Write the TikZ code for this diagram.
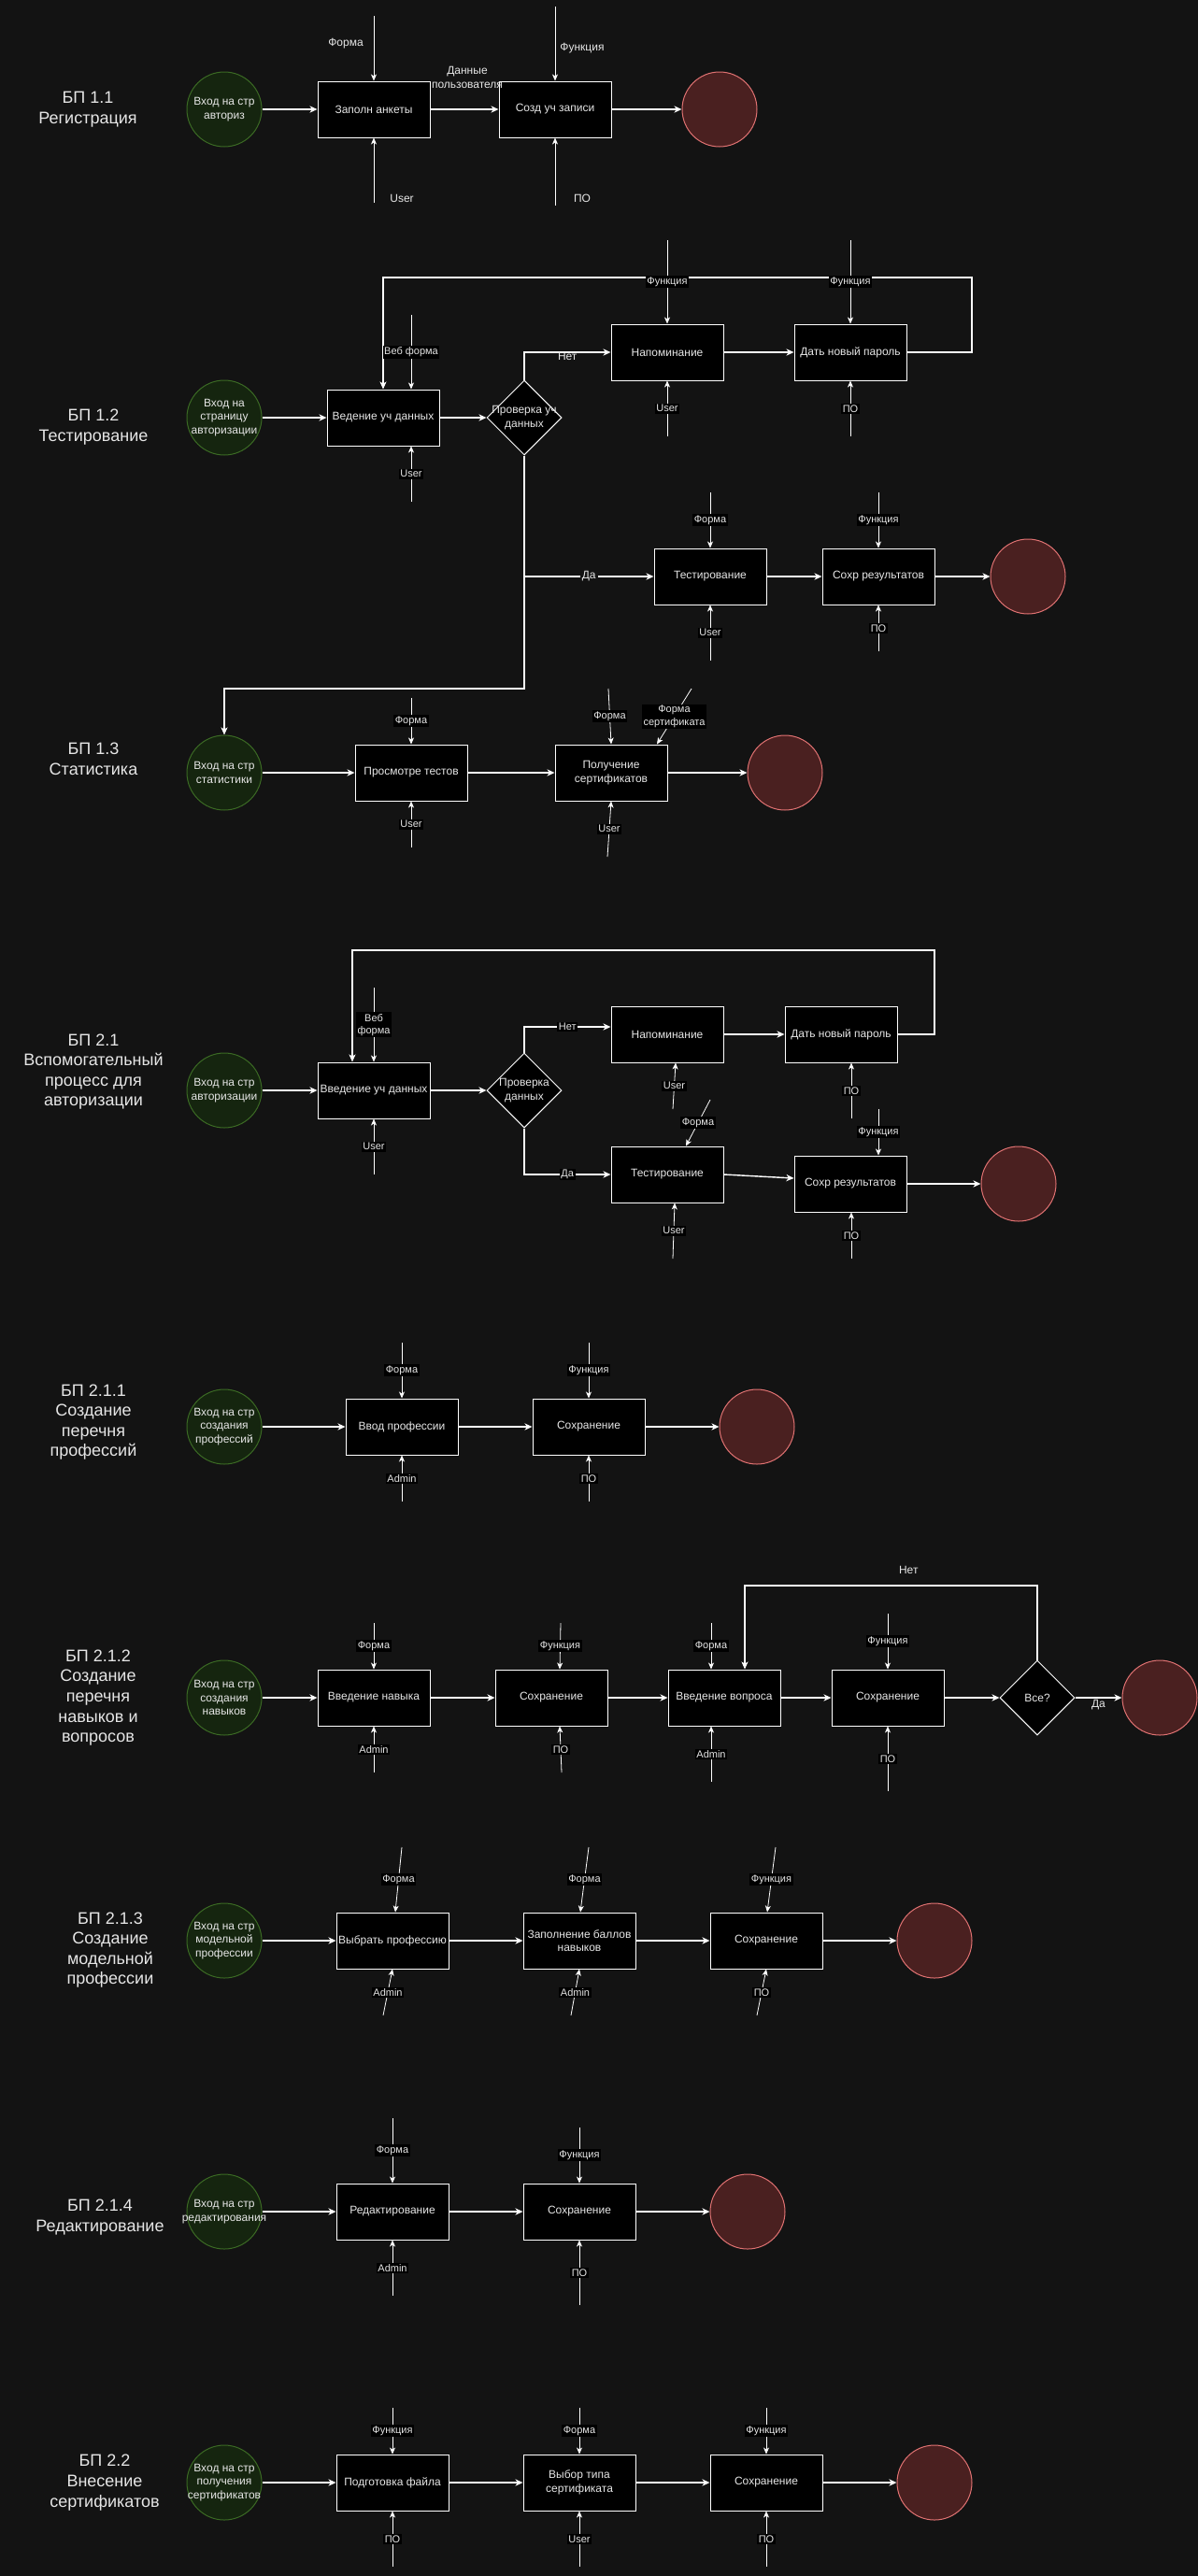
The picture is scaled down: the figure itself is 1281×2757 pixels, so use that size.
\documentclass[tikz,border=0pt]{standalone}
\usepackage{fontspec}
\setmainfont{Liberation Sans}
\usepackage{xcolor}
\usetikzlibrary{arrows.meta,shapes.geometric}

\definecolor{bgc}{HTML}{131313}
\definecolor{txt}{HTML}{E6E6E6}
\definecolor{startfill}{HTML}{15250F}
\definecolor{startline}{HTML}{3B6A24}
\definecolor{endfill}{HTML}{4A2020}
\definecolor{endline}{HTML}{E07272}

\begin{document}
\begin{tikzpicture}[x=0.5pt, y=-0.5pt,
    proc/.style={draw=white, fill=black, line width=0.5pt, minimum width=60pt, minimum height=30pt,
        inner sep=1pt, align=center, text=txt, font=\fontsize{6pt}{7.2pt}\selectfont},
    startnode/.style={circle, minimum size=40pt, inner sep=0pt, fill=startfill, draw=startline, line width=0.5pt},
    endnode/.style={circle, minimum size=40pt, inner sep=0pt, fill=endfill, draw=endline, line width=0.5pt},
    check/.style={diamond, minimum width=40pt, minimum height=40pt, inner sep=0pt, fill=black, draw=white, line width=0.5pt},
    intext/.style={align=center, text=txt, font=\fontsize{6pt}{7.2pt}\selectfont, inner sep=0pt},
    title/.style={align=center, text=txt, font=\fontsize{9pt}{10.8pt}\selectfont},
    plain/.style={align=center, text=txt, font=\fontsize{6pt}{7.2pt}\selectfont, inner sep=1pt},
    lbl/.style={fill=black, align=center, text=txt, font=\fontsize{5.5pt}{6.6pt}\selectfont, inner sep=0.8pt},
    flow/.style={draw=white, line width=0.7pt, -{Stealth[length=4pt,width=3.6pt,inset=1.2pt]}},
    back/.style={draw=white, line width=0.55pt, -{Stealth[length=4pt,width=3.5pt,inset=1pt]}},
    ctl/.style={draw=white, line width=0.4pt, -{Stealth[length=3.5pt,width=3pt,inset=1pt]}}]

    \useasboundingbox (0,0) rectangle (1281,2757);
    \fill[bgc] (-20,-20) rectangle (1301,2777);

    \node[title] (t11) at (94,117) {БП 1.1\\Регистрация};
    \node[startnode, label={[intext]center:Вход на стр\\авториз}] (s11) at (240,117) {};
    \node[proc] (a11) at (400,117) {Заполн анкеты};
    \node[proc] (b11) at (594,117) {Созд уч записи};
    \node[endnode] (e11) at (770,117) {};
    \draw[flow] (s11) -- (a11);
    \draw[flow] (a11) -- (b11);
    \draw[flow] (b11) -- (e11);
    \node[plain] (u11) at (500,83) {Данные\\пользователя};
    \coordinate (a11i) at (400,17);
    \coordinate (b11i) at (594,7);
    \coordinate (a11m) at (400,217);
    \coordinate (b11m) at (594,220);
    \draw[ctl] (a11i) -- (a11.north);
    \draw[ctl] (b11i) -- (b11.north);
    \draw[ctl] (a11m) -- (a11.south);
    \draw[ctl] (b11m) -- (b11.south);
    \node[plain] (f11) at (370,47) {Форма};
    \node[plain] (g11) at (623,52) {Функция};
    \node[plain] (h11) at (430,212) {User};
    \node[plain] (k11) at (623,212) {ПО};

    \node[title] (t12) at (100,457) {БП 1.2\\Тестирование};
    \node[startnode, label={[intext]center:Вход на\\страницу\\авторизации}] (s12) at (240,447) {};
    \node[proc] (v12) at (410,447) {Ведение уч данных};
    \node[check, label={[intext]center:Проверка уч\\данных}] (d12) at (561,447) {};
    \node[proc] (n12) at (714,377) {Напоминание};
    \node[proc] (p12) at (910,377) {Дать новый пароль};
    \node[proc] (q12) at (760,617) {Тестирование};
    \node[proc] (r12) at (940,617) {Сохр результатов};
    \node[endnode] (e12) at (1100,617) {};
    \coordinate (k12) at (1040,297);
    \coordinate (j12) at (561,737);
    \draw[flow] (s12) -- (v12);
    \draw[flow] (v12) -- (d12);
    \draw[flow] (d12.north) |- node[pos=0.75, below=-1pt, plain] {Нет} (n12.west);
    \draw[flow] (n12) -- (p12);
    \draw[back] (p12.east) -| (k12) -| (v12.north);
    \draw[flow] (d12.south) |- node[pos=0.75, plain, fill=bgc] {Да} (q12.west);
    \draw[flow] (q12) -- (r12);
    \draw[flow] (r12) -- (e12);
    \coordinate (v12i) at (440,337);
    \coordinate (v12m) at (440,537);
    \coordinate (n12i) at (714,257);
    \coordinate (n12m) at (714,467);
    \coordinate (p12i) at (910,257);
    \coordinate (p12m) at (910,467);
    \coordinate (q12i) at (760,527);
    \coordinate (q12m) at (760,707);
    \coordinate (r12i) at (940,527);
    \coordinate (r12m) at (940,697);
    \draw[ctl] (v12i) -- node[lbl] {Веб форма} (v12i |- v12.north);
    \draw[ctl] (v12m) -- node[lbl] {User} (v12m |- v12.south);
    \draw[ctl] (n12i) -- node[lbl] {Функция} (n12.north);
    \draw[ctl] (n12m) -- node[lbl] {User} (n12.south);
    \draw[ctl] (p12i) -- node[lbl] {Функция} (p12.north);
    \draw[ctl] (p12m) -- node[lbl] {ПО} (p12.south);
    \draw[ctl] (q12i) -- node[lbl] {Форма} (q12.north);
    \draw[ctl] (q12m) -- node[lbl] {User} (q12.south);
    \draw[ctl] (r12i) -- node[lbl] {Функция} (r12.north);
    \draw[ctl] (r12m) -- node[lbl] {ПО} (r12.south);

    \node[title] (t13) at (100,812) {БП 1.3\\Статистика};
    \node[startnode, label={[intext]center:Вход на стр\\статистики}] (s13) at (240,827) {};
    \node[proc] (v13) at (440,827) {Просмотре тестов};
    \node[proc] (g13) at (654,827) {Получение\\сертификатов};
    \node[endnode] (e13) at (840,827) {};
    \draw[back] (d12.south) -- (j12) -| (s13.north);
    \draw[flow] (s13) -- (v13);
    \draw[flow] (v13) -- (g13);
    \draw[flow] (g13) -- (e13);
    \coordinate (v13i) at (440,747);
    \coordinate (v13m) at (440,907);
    \coordinate (g13i) at (651,737);
    \coordinate (g13j) at (740,737);
    \coordinate (g13m) at (650,917);
    \draw[ctl] (v13i) -- node[lbl] {Форма} (v13.north);
    \draw[ctl] (v13m) -- node[lbl] {User} (v13.south);
    \draw[ctl] (g13i) -- node[lbl] {Форма} (g13.north);
    \draw[ctl] (g13j) -- node[lbl] {Форма\\сертификата} ([xshift=24.5pt]g13.north);
    \draw[ctl] (g13m) -- node[lbl] {User} (g13.south);

    \node[title] (t21) at (100,1147) {БП 2.1\\Вспомогательный\\процесс для\\авторизации};
    \node[startnode, label={[intext]center:Вход на стр\\авторизации}] (s21) at (240,1167) {};
    \node[proc] (v21) at (400,1167) {Введение уч данных};
    \node[check, label={[intext]center:Проверка\\данных}] (d21) at (561,1167) {};
    \node[proc] (n21) at (714,1107) {Напоминание};
    \node[proc] (p21) at (900,1107) {Дать новый пароль};
    \node[proc] (q21) at (714,1257) {Тестирование};
    \node[proc] (r21) at (910,1267) {Сохр результатов};
    \node[endnode] (e21) at (1090,1267) {};
    \coordinate (k21) at (1000,1017);
    \draw[flow] (s21) -- (v21);
    \draw[flow] (v21) -- (d21);
    \draw[flow] (d21.north) |- node[pos=0.75, lbl] {Нет} ([yshift=4pt]n21.west);
    \draw[flow] (n21) -- (p21);
    \draw[back] (p21.east) -| (k21) -| ([xshift=-11.5pt]v21.north);
    \draw[flow] (d21.south) |- node[pos=0.75, lbl] {Да} (q21.west);
    \draw[flow] (q21.east) -- ([yshift=3pt]r21.west);
    \draw[flow] (r21) -- (e21);
    \coordinate (v21i) at (400,1057);
    \coordinate (v21m) at (400,1257);
    \coordinate (n21m) at (720,1187);
    \coordinate (p21m) at (911,1197);
    \coordinate (q21i) at (760,1177);
    \coordinate (q21m) at (720,1347);
    \coordinate (r21i) at (940,1187);
    \coordinate (r21m) at (911,1347);
    \draw[ctl] (v21i) -- node[lbl] {Веб\\форма} (v21.north);
    \draw[ctl] (v21m) -- node[lbl] {User} (v21.south);
    \draw[ctl] (n21m) -- node[lbl] {User} ([xshift=4.5pt]n21.south);
    \draw[ctl] (p21m) -- node[lbl] {ПО} (p21m |- p21.south);
    \draw[ctl] (q21i) -- node[lbl] {Форма} ([xshift=10pt]q21.north);
    \draw[ctl] (q21m) -- node[lbl] {User} ([xshift=4pt]q21.south);
    \draw[ctl] (r21i) -- node[lbl] {Функция} (r21i |- r21.north);
    \draw[ctl] (r21m) -- node[lbl] {ПО} (r21m |- r21.south);

    \node[title] (t211) at (100,1522) {БП 2.1.1\\Создание\\перечня\\профессий};
    \node[startnode, label={[intext]center:Вход на стр\\создания\\профессий}] (s211) at (240,1527) {};
    \node[proc] (v211) at (430,1527) {Ввод профессии};
    \node[proc] (r211) at (630,1527) {Сохранение};
    \node[endnode] (e211) at (810,1527) {};
    \draw[flow] (s211) -- (v211);
    \draw[flow] (v211) -- (r211);
    \draw[flow] (r211) -- (e211);
    \coordinate (v211i) at (430,1437);
    \coordinate (v211m) at (430,1607);
    \coordinate (r211i) at (630,1437);
    \coordinate (r211m) at (630,1607);
    \draw[ctl] (v211i) -- node[lbl] {Форма} (v211.north);
    \draw[ctl] (v211m) -- node[lbl] {Admin} (v211.south);
    \draw[ctl] (r211i) -- node[lbl] {Функция} (r211.north);
    \draw[ctl] (r211m) -- node[lbl] {ПО} (r211.south);

    \node[title] (t212) at (105,1817) {БП 2.1.2\\Создание\\перечня\\навыков и\\вопросов};
    \node[startnode, label={[intext]center:Вход на стр\\создания\\навыков}] (s212) at (240,1817) {};
    \node[proc] (a212) at (400,1817) {Введение навыка};
    \node[proc] (b212) at (590,1817) {Сохранение};
    \node[proc] (q212) at (775,1817) {Введение вопроса};
    \node[proc] (c212) at (950,1817) {Сохранение};
    \node[check, label={[intext]center:Все?}] (d212) at (1110,1817) {};
    \node[endnode] (e212) at (1241,1817) {};
    \coordinate (k212) at (1110,1697);
    \draw[flow] (s212) -- (a212);
    \draw[flow] (a212) -- (b212);
    \draw[flow] (b212) -- (q212);
    \draw[flow] (q212) -- (c212);
    \draw[flow] (c212) -- (d212);
    \draw[flow] (d212) -- node[below=0pt, plain] {Да} (e212);
    \draw[back] (d212.north) -- (k212) -| node[pos=0.22, above=5pt, plain] {Нет} ([xshift=11pt]q212.north);
    \coordinate (a212i) at (400,1737);
    \coordinate (a212m) at (400,1897);
    \coordinate (b212i) at (600,1737);
    \coordinate (b212m) at (601,1897);
    \coordinate (q212i) at (761,1737);
    \coordinate (q212m) at (761,1907);
    \coordinate (c212i) at (950,1727);
    \coordinate (c212m) at (950,1917);
    \draw[ctl] (a212i) -- node[lbl] {Форма} (a212.north);
    \draw[ctl] (a212m) -- node[lbl] {Admin} (a212.south);
    \draw[ctl] (b212i) -- node[lbl] {Функция} ([xshift=4.5pt]b212.north);
    \draw[ctl] (b212m) -- node[lbl] {ПО} ([xshift=4.5pt]b212.south);
    \draw[ctl] (q212i) -- node[lbl] {Форма} ([xshift=-7pt]q212.north);
    \draw[ctl] (q212m) -- node[lbl] {Admin} ([xshift=-7pt]q212.south);
    \draw[ctl] (c212i) -- node[lbl] {Функция} (c212.north);
    \draw[ctl] (c212m) -- node[lbl] {ПО} (c212.south);

    \node[title] (t213) at (118,2087) {БП 2.1.3\\Создание\\модельной\\профессии};
    \node[startnode, label={[intext]center:Вход на стр\\модельной\\профессии}] (s213) at (240,2077) {};
    \node[proc] (a213) at (420,2077) {Выбрать профессию};
    \node[proc] (b213) at (620,2077) {Заполнение баллов\\навыков};
    \node[proc] (c213) at (820,2077) {Сохранение};
    \node[endnode] (e213) at (1000,2077) {};
    \draw[flow] (s213) -- (a213);
    \draw[flow] (a213) -- (b213);
    \draw[flow] (b213) -- (c213);
    \draw[flow] (c213) -- (e213);
    \coordinate (a213i) at (430,1977);
    \coordinate (a213m) at (410,2157);
    \coordinate (b213i) at (630,1977);
    \coordinate (b213m) at (611,2157);
    \coordinate (c213i) at (830,1977);
    \coordinate (c213m) at (810,2157);
    \draw[ctl] (a213i) -- node[lbl] {Форма} ([xshift=1.5pt]a213.north);
    \draw[ctl] (a213m) -- node[lbl] {Admin} (a213.south);
    \draw[ctl] (b213i) -- node[lbl] {Форма} ([xshift=0.5pt]b213.north);
    \draw[ctl] (b213m) -- node[lbl] {Admin} (b213.south);
    \draw[ctl] (c213i) -- node[lbl] {Функция} ([xshift=0.5pt]c213.north);
    \draw[ctl] (c213m) -- node[lbl] {ПО} (c213.south);

    \node[title] (t214) at (107,2373) {БП 2.1.4\\Редактирование};
    \node[startnode, label={[intext]center:Вход на стр\\редактирования}] (s214) at (240,2367) {};
    \node[proc] (a214) at (420,2367) {Редактирование};
    \node[proc] (b214) at (620,2367) {Сохранение};
    \node[endnode] (e214) at (800,2367) {};
    \draw[flow] (s214) -- (a214);
    \draw[flow] (a214) -- (b214);
    \draw[flow] (b214) -- (e214);
    \coordinate (a214i) at (420,2267);
    \coordinate (a214m) at (420,2457);
    \coordinate (b214i) at (620,2277);
    \coordinate (b214m) at (620,2467);
    \draw[ctl] (a214i) -- node[lbl] {Форма} (a214.north);
    \draw[ctl] (a214m) -- node[lbl] {Admin} (a214.south);
    \draw[ctl] (b214i) -- node[lbl] {Функция} (b214.north);
    \draw[ctl] (b214m) -- node[lbl] {ПО} (b214.south);

    \node[title] (t22) at (112,2657) {БП 2.2\\Внесение\\сертификатов};
    \node[startnode, label={[intext]center:Вход на стр\\получения\\сертификатов}] (s22) at (240,2657) {};
    \node[proc] (a22) at (420,2657) {Подготовка файла};
    \node[proc] (b22) at (620,2657) {Выбор типа\\сертификата};
    \node[proc] (c22) at (820,2657) {Сохранение};
    \node[endnode] (e22) at (1000,2657) {};
    \draw[flow] (s22) -- (a22);
    \draw[flow] (a22) -- (b22);
    \draw[flow] (b22) -- (c22);
    \draw[flow] (c22) -- (e22);
    \coordinate (a22i) at (420,2577);
    \coordinate (a22m) at (420,2747);
    \coordinate (b22i) at (620,2577);
    \coordinate (b22m) at (620,2747);
    \coordinate (c22i) at (820,2577);
    \coordinate (c22m) at (820,2747);
    \draw[ctl] (a22i) -- node[lbl] {Функция} (a22.north);
    \draw[ctl] (a22m) -- node[lbl] {ПО} (a22.south);
    \draw[ctl] (b22i) -- node[lbl] {Форма} (b22.north);
    \draw[ctl] (b22m) -- node[lbl] {User} (b22.south);
    \draw[ctl] (c22i) -- node[lbl] {Функция} (c22.north);
    \draw[ctl] (c22m) -- node[lbl] {ПО} (c22.south);
\end{tikzpicture}
\end{document}
